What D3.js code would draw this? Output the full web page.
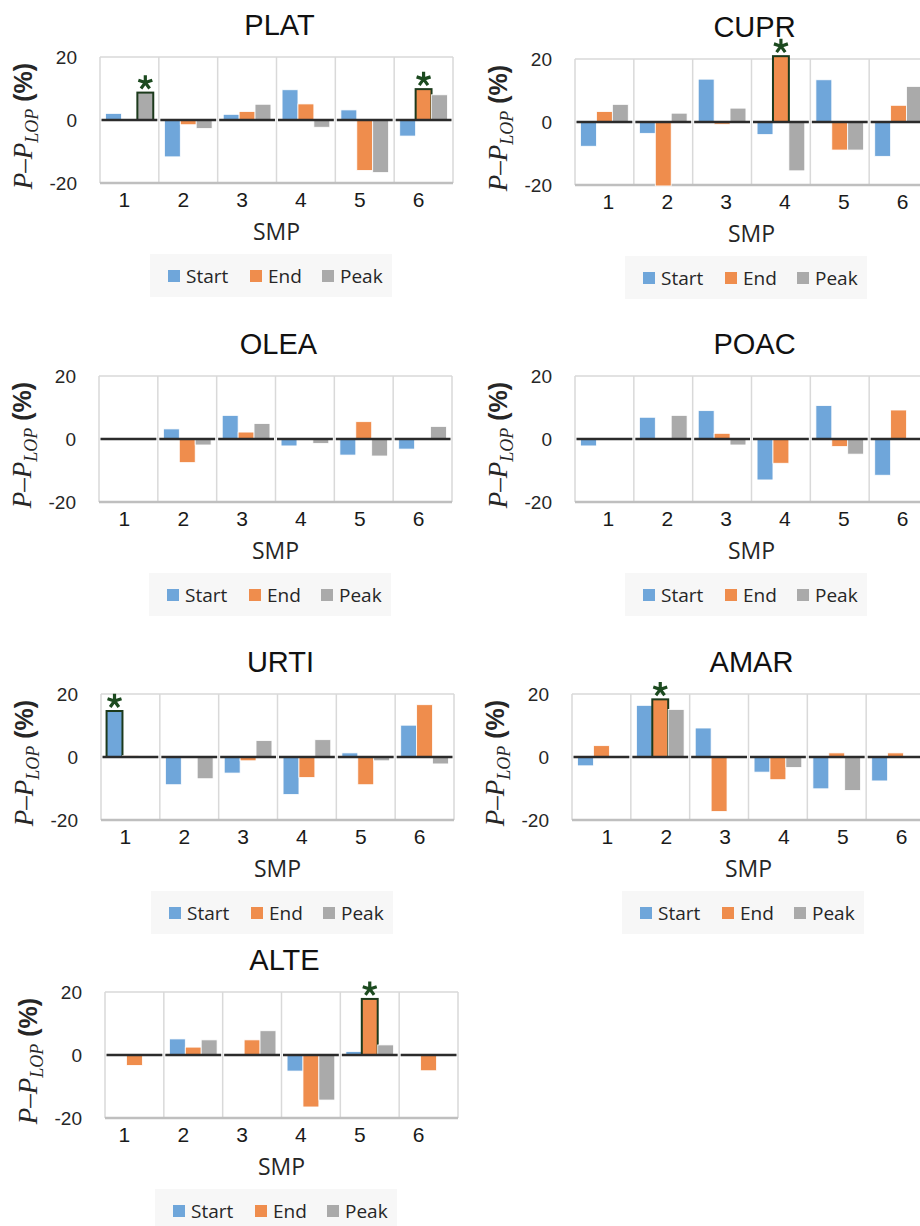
<!DOCTYPE html>
<html>
<head>
<meta charset="utf-8">
<script src="https://cdn.jsdelivr.net/npm/d3@7"></script>
<style>
  body { margin: 0; background: #fff; }
  svg { display: block; }
</style>
</head>
<body>
<svg id="chart" width="920" height="1226"></svg>
<script>
// data (null = no bar)
var smp = [1, 2, 3, 4, 5, 6];
var series = ["Start", "End", "Peak"];
var panels = ["PLAT", "CUPR", "OLEA", "POAC", "URTI", "AMAR", "ALTE"];

var startVals = [
  [2.1, -11.7, 1.8, 9.6, 3.2, -5.1],
  [-7.7, -3.6, 13.6, -4.0, 13.4, -10.9],
  [null, 3.2, 7.5, -2.2, -5.1, -3.2],
  [-2.2, 6.9, 9.0, -13.0, 10.6, -11.5],
  [14.6, -8.8, -5.1, -11.9, 1.3, 10.1],
  [-2.8, 16.4, 9.2, -4.8, -10.1, -7.6],
  [-0.2, 5.1, null, -5.1, 1.1, null]
];
var endVals = [
  [null, -1.5, 2.7, 5.1, -16.0, 9.8],
  [3.3, -20.3, -0.7, 20.9, -8.9, 5.3],
  [null, -7.5, 2.2, null, 5.5, null],
  [null, null, 1.8, -7.7, -2.4, 9.2],
  [0.4, null, -1.2, -6.5, -8.8, 16.6],
  [3.6, 18.3, -17.3, -7.2, 1.3, 1.3],
  [-3.3, 2.5, 4.8, -16.5, 17.8, -5.0]
];
var peakVals = [
  [8.7, -2.7, 5.0, -2.3, -16.7, 8.0],
  [5.6, 2.8, 4.4, -15.5, -8.9, 11.3],
  [null, -1.9, 4.9, -1.4, -5.4, 4.0],
  [null, 7.5, -1.9, null, -4.8, null],
  [null, -6.9, 5.2, 5.5, -1.2, -2.2],
  [null, 15.1, null, -3.3, -10.6, null],
  [null, 4.8, 7.7, -14.3, 3.2, null]
];
// significant bars: [panel, smp, series]
var starred = [
  ["PLAT", 1, "Peak"], ["PLAT", 6, "End"], ["CUPR", 4, "End"],
  ["URTI", 1, "Start"], ["AMAR", 2, "End"], ["ALTE", 5, "End"]
];
var yTicks = [-20, 0, 20];

var colors = { Start: "#6fa6da", End: "#ef8d4d", Peak: "#aaaaaa" };

// where each panel's plot area sits (left, top) and tick label nudge
var layout = [
  { left: 100, top: 57, dx: -5 },
  { left: 575, top: 59, dx: 4 },
  { left: 99, top: 376, dx: -4 },
  { left: 575, top: 376, dx: 4 },
  { left: 101, top: 694, dx: -5 },
  { left: 572, top: 694, dx: 6 },
  { left: 105, top: 992, dx: -10 }
];
var W = 353, H = 126;

// five-armed asterisk marker
var asterisk = {
  draw: function(ctx, size) {
    var r = Math.sqrt(size) / 2;
    for (var i = 0; i < 5; i++) {
      var a = -Math.PI / 2 + i * 2 * Math.PI / 5;
      ctx.moveTo(0, 0);
      ctx.lineTo(r * Math.cos(a), r * Math.sin(a));
    }
  }
};

var svg = d3.select("#chart");

panels.forEach(function(name, p) {
  var L = layout[p];
  var g = svg.append("g");
  var bottom = L.top + H;

  var x = d3.scaleBand().domain(smp).range([L.left, L.left + W]).padding(0);
  var x1 = d3.scaleBand().domain(series).range([0, x.bandwidth()]).paddingInner(0).paddingOuter(0.35);
  var y = d3.scaleLinear().domain([-20, 20]).range([bottom, L.top]);

  // grid
  var edges = smp.map(function(d) { return x(d); }).concat([L.left + W]);
  g.selectAll(".vg").data(edges).enter().append("line")
    .attr("x1", function(d) { return d; }).attr("x2", function(d) { return d; })
    .attr("y1", y(20)).attr("y2", y(-20))
    .attr("stroke", "#d9d9d9").attr("stroke-width", 1.5);
  g.append("line").attr("x1", L.left).attr("x2", L.left + W)
    .attr("y1", y(20)).attr("y2", y(20)).attr("stroke", "#d9d9d9").attr("stroke-width", 1.5);
  g.append("line").attr("x1", L.left).attr("x2", L.left + W)
    .attr("y1", y(-20)).attr("y2", y(-20)).attr("stroke", "#bfbfbf").attr("stroke-width", 2.5);

  // bars
  var rows = [startVals[p], endVals[p], peakVals[p]];
  var bars = [];
  smp.forEach(function(s, i) {
    series.forEach(function(k, j) {
      var v = rows[j][i];
      if (v === null) return;
      var star = starred.some(function(t) { return t[0] === name && t[1] === s && t[2] === k; });
      bars.push({ smp: s, key: k, value: v, star: star });
    });
  });

  g.selectAll(".bar").data(bars).enter().append("rect")
    .attr("x", function(d) { return x(d.smp) + x1(d.key); })
    .attr("width", x1.bandwidth())
    .attr("y", function(d) { return y(Math.max(0, d.value)); })
    .attr("height", function(d) { return Math.abs(y(d.value) - y(0)); })
    .attr("fill", function(d) { return colors[d.key]; })
    .attr("stroke", function(d) { return d.star ? "#1c3a1c" : "#ffffff"; })
    .attr("stroke-width", function(d) { return d.star ? 2 : 0.8; });

  g.selectAll(".star").data(bars.filter(function(d) { return d.star; })).enter().append("path")
    .attr("transform", function(d) {
      return "translate(" + (x(d.smp) + x1(d.key) + x1.bandwidth() / 2) + "," + (y(Math.max(0, d.value)) - 10) + ")";
    })
    .attr("d", d3.symbol().type(asterisk).size(216))
    .attr("fill", "none").attr("stroke", "#1c4a1f").attr("stroke-width", 3.2);

  // zero line, broken at each grid line
  g.selectAll(".zero").data(smp).enter().append("line")
    .attr("x1", function(d) { return x(d) + 1.5; })
    .attr("x2", function(d) { return x(d) + x.bandwidth() - 1.5; })
    .attr("y1", y(0)).attr("y2", y(0))
    .attr("stroke", "#2b2b2b").attr("stroke-width", 2.6);

  // axes
  var ya = g.append("g").attr("transform", "translate(" + L.left + ",0)")
    .call(d3.axisLeft(y).tickValues(yTicks).tickSize(0).tickPadding(23)
      .tickFormat(function(d) { return String(d); }));
  ya.select(".domain").remove();
  ya.selectAll("text").attr("font-family", "Liberation Sans, Arial, sans-serif")
    .attr("font-size", 19).attr("fill", "#262626");

  var xa = g.append("g").attr("transform", "translate(0," + bottom + ")")
    .call(d3.axisBottom(x).tickSize(0).tickPadding(9));
  xa.select(".domain").remove();
  xa.selectAll("text").attr("font-family", "Liberation Sans, Arial, sans-serif")
    .attr("font-size", 21).attr("fill", "#1a1a1a").attr("dx", L.dx);

  // title
  g.append("text").attr("x", L.left + W / 2 + 3).attr("y", L.top - 22)
    .attr("text-anchor", "middle")
    .attr("font-family", "Liberation Sans, Arial, sans-serif")
    .attr("font-size", 29).attr("fill", "#111").text(name);

  // x title
  g.append("text").attr("x", L.left + W / 2).attr("y", bottom + 57)
    .attr("text-anchor", "middle")
    .attr("font-family", "Open Sans, sans-serif")
    .attr("font-size", 23).attr("fill", "#262626").text("SMP");

  // y title
  var yl = g.append("text")
    .attr("transform", "translate(" + (L.left - 68) + "," + (y(0) + 6) + ") rotate(-90)")
    .attr("text-anchor", "middle").attr("fill", "#262626");
  yl.append("tspan").attr("font-family", "Liberation Serif, serif").attr("font-style", "italic")
    .attr("font-size", 27).text("P\u2013P");
  yl.append("tspan").attr("font-family", "Liberation Serif, serif").attr("font-style", "italic")
    .attr("font-size", 18).attr("dy", 6).text("LOP");
  yl.append("tspan").attr("font-family", "Liberation Sans, Arial, sans-serif").attr("font-weight", "bold")
    .attr("font-size", 25).attr("dy", -6).text(" (%)");

  // legend
  var lg = g.append("g").attr("transform", "translate(" + L.left + "," + bottom + ")");
  lg.append("rect").attr("x", 50).attr("y", 71).attr("width", 242).attr("height", 43).attr("fill", "#f7f7f7");
  var lx = [68, 150, 222];
  series.forEach(function(k, j) {
    lg.append("rect").attr("x", lx[j]).attr("y", 87).attr("width", 12).attr("height", 12).attr("fill", colors[k]);
    lg.append("text").attr("x", lx[j] + 18).attr("y", 100)
      .attr("font-family", "Open Sans, sans-serif").attr("font-size", 19)
      .attr("fill", "#262626").text(k);
  });
});
</script>
</body>
</html>
